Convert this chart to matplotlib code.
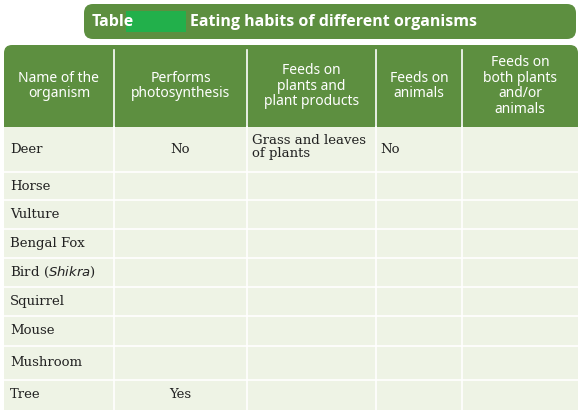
import matplotlib
matplotlib.use("Agg")
import matplotlib.pyplot as plt
from matplotlib.patches import FancyBboxPatch, Rectangle

title_prefix = "Table"
title_text = "Eating habits of different organisms"
headers = ["Name of the\norganism", "Performs\nphotosynthesis", "Feeds on\nplants and\nplant products",
           "Feeds on\nanimals", "Feeds on\nboth plants\nand/or\nanimals"]
organisms = ["Deer", "Horse", "Vulture", "Bengal Fox", "Bird ($\\it{Shikra}$)", "Squirrel", "Mouse", "Mushroom", "Tree"]
photosynthesis = ["No", "", "", "", "", "", "", "", "Yes"]
plants = ["Grass and leaves\nof plants", "", "", "", "", "", "", "", ""]
animals = ["No", "", "", "", "", "", "", "", ""]
both = [""] * 9

col_x = [4, 114, 247, 376, 462, 578]
row_y = [127, 172, 200, 229, 258, 287, 316, 346, 380, 410]
GREEN = "#5d8f40"
CELL = "#eef3e5"

fig = plt.figure(figsize=(5.82, 4.17), dpi=100)
ax = fig.add_axes([0, 0, 1, 1])
ax.set_xlim(0, 582); ax.set_ylim(417, 0); ax.axis("off")

ax.add_patch(FancyBboxPatch((84, 4), 492, 35, boxstyle="round,pad=0,rounding_size=9", fc=GREEN, ec="none"))
ax.add_patch(Rectangle((126, 11), 60, 21, fc="#22b04b", ec="none"))
ax.text(92, 22, title_prefix, color="white", fontsize=11.5, fontweight="bold", family="Open Sans", va="center")
ax.text(190, 22, title_text, color="white", fontsize=11.5, fontweight="bold", family="Open Sans", va="center")

ax.add_patch(FancyBboxPatch((4, 45), 574, 82, boxstyle="round,pad=0,rounding_size=8", fc=GREEN, ec="none"))
ax.add_patch(Rectangle((4, 100), 574, 27, fc=GREEN, ec="none"))
for i, h in enumerate(headers):
    cx = (col_x[i] + col_x[i + 1]) / 2
    ax.text(cx, 86, h, color="white", fontsize=10, fontweight="bold", family="Noto Sans",
            ha="center", va="center", linespacing=1.05)
for x in col_x[1:-1]:
    ax.plot([x, x], [50, 127], color="white", lw=1.2)

ax.add_patch(Rectangle((4, 127), 574, 283, fc=CELL, ec="none"))
for x in col_x[1:-1]:
    ax.plot([x, x], [127, 410], color="white", lw=1.2)
for y in row_y[1:-1]:
    ax.plot([4, 578], [y, y], color="white", lw=1.2)

for r in range(len(organisms)):
    cy = (row_y[r] + row_y[r + 1]) / 2
    kw = dict(fontsize=9.5, family="DejaVu Serif", color="#222222", va="center")
    ax.text(10, cy, organisms[r], **kw)
    ax.text((col_x[1] + col_x[2]) / 2, cy, photosynthesis[r], ha="center", **kw)
    ax.text(252, cy - 2, plants[r], linespacing=1.0, **kw)
    ax.text(380, cy, animals[r], **kw)
    ax.text(468, cy, both[r], **kw)

fig.savefig("out.png", dpi=100)
